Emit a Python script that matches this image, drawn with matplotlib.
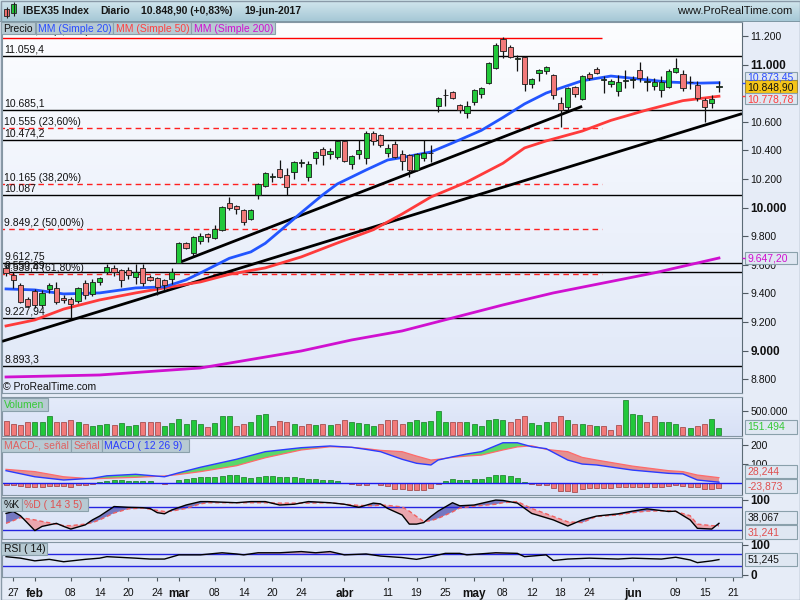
import numpy as np
import pandas as pd
import matplotlib
matplotlib.use('Agg')
import matplotlib.pyplot as plt
from matplotlib.patches import Rectangle
from matplotlib.colors import LinearSegmentedColormap

plt.rcParams['font.family'] = ['Liberation Sans', 'DejaVu Sans']

# ---------------- data ----------------
days = pd.bdate_range('2017-01-26', '2017-06-21')
days = days.drop(pd.to_datetime(['2017-04-14', '2017-04-17', '2017-05-01']))

opens = [9580, 9530, 9459, 9361, 9417, 9319, 9431, 9438, 9368, 9361,
         9347, 9473, 9396, 9480, 9550, 9578, 9564, 9564, 9515, 9578,
         9515, 9508, 9494, 9500, 9615, 9752, 9683, 9766, 9815, 9787,
         9843, 10032, 10011, 9983, 9920, 10088, 10151, 10214, 10270, 10228,
         10249, 10312, 10214, 10347, 10410, 10375, 10354, 10466, 10305, 10375,
         10347, 10522, 10508, 10382, 10445, 10375, 10368, 10263, 10347, 10380,
         10710, 10785, 10808, 10717, 10662, 10738, 10794, 10871, 10976, 11179,
         11123, 11040, 11053, 10864, 10941, 10955, 10927, 10731, 10703, 10843,
         10759, 10934, 10969, 10892, 10864, 10815, 10885, 10892, 10962, 10878,
         10850, 10822, 10843, 10948, 10934, 10876, 10857, 10752, 10731, 10845]
highs = [9600, 9550, 9475, 9375, 9430, 9424, 9473, 9480, 9389, 9375,
         9445, 9494, 9500, 9515, 9606, 9599, 9571, 9585, 9606, 9606,
         9529, 9515, 9500, 9578, 9760, 9760, 9801, 9822, 9820, 9878,
         10010, 10074, 10020, 9990, 9990, 10172, 10250, 10242, 10333, 10277,
         10326, 10340, 10326, 10396, 10424, 10417, 10473, 10473, 10368, 10473,
         10536, 10536, 10515, 10445, 10466, 10403, 10375, 10382, 10473, 10438,
         10773, 10829, 10815, 10724, 10745, 10829, 10843, 11018, 11151, 11193,
         11137, 11070, 11060, 10906, 10969, 10990, 10934, 10773, 10843, 10850,
         10927, 10948, 10983, 10920, 10899, 10927, 10962, 10920, 11018, 10920,
         10906, 10920, 10969, 11046, 10962, 10920, 10885, 10766, 10787, 10885]
lows = [9520, 9440, 9330, 9305, 9298, 9305, 9403, 9326, 9333, 9228,
        9333, 9361, 9382, 9459, 9536, 9522, 9445, 9500, 9466, 9452,
        9487, 9389, 9424, 9466, 9610, 9710, 9662, 9745, 9759, 9780,
        9836, 9980, 9955, 9878, 9910, 10060, 10144, 10179, 10207, 10088,
        10200, 10284, 10186, 10305, 10298, 10340, 10340, 10320, 10270, 10340,
        10305, 10438, 10424, 10354, 10347, 10263, 10214, 10256, 10326, 10320,
        10669, 10710, 10760, 10662, 10627, 10717, 10766, 10864, 10969, 11046,
        11046, 10955, 10815, 10836, 10885, 10934, 10759, 10564, 10682, 10773,
        10752, 10892, 10934, 10801, 10843, 10780, 10836, 10836, 10878, 10815,
        10822, 10773, 10836, 10941, 10815, 10829, 10745, 10599, 10696, 10808]
closes = [9540, 9490, 9340, 9312, 9319, 9403, 9459, 9340, 9354, 9326,
          9438, 9389, 9480, 9508, 9585, 9550, 9494, 9529, 9550, 9473,
          9490, 9445, 9459, 9550, 9755, 9717, 9794, 9801, 9794, 9850,
          10004, 9997, 9990, 9899, 9983, 10165, 10242, 10217, 10214, 10144,
          10319, 10314, 10305, 10389, 10368, 10396, 10466, 10326, 10361, 10403,
          10522, 10466, 10438, 10417, 10354, 10326, 10263, 10375, 10382, 10385,
          10766, 10790, 10766, 10682, 10710, 10822, 10836, 11011, 11137, 11095,
          11053, 11042, 10864, 10899, 10962, 10983, 10787, 10682, 10836, 10794,
          10920, 10906, 10941, 10895, 10885, 10878, 10887, 10894, 10906, 10880,
          10878, 10878, 10955, 10976, 10836, 10880, 10766, 10703, 10759, 10848.9]

ma20_idx = [0, 4, 8, 13, 18, 22, 25, 27, 31, 34, 36, 38, 41, 44, 46, 50, 53, 55, 59, 62,
            66, 69, 72, 75, 77, 80, 84, 88, 92, 96, 99]
ma20 = [9431, 9424, 9396, 9403, 9438, 9445, 9494, 9543, 9645, 9690, 9750, 9835, 9965, 10090,
        10165, 10263, 10333, 10350, 10389, 10452, 10540, 10630, 10725, 10801, 10836, 10887,
        10920, 10899, 10878, 10870, 10873.45]
ma50_idx = [0, 4, 8, 13, 18, 22, 27, 31, 36, 41, 46, 51, 55, 59, 64, 69, 72, 75, 80, 84, 89, 94, 99]
ma50 = [9172, 9214, 9290, 9354, 9403, 9438, 9480, 9533, 9578, 9655, 9752, 9845, 9955, 10074,
        10179, 10310, 10417, 10466, 10535, 10610, 10683, 10748, 10778.78]
ma200_idx = [0, 13, 27, 41, 48, 55, 62, 69, 76, 83, 90, 99]
ma200 = [8815, 8829, 8878, 8997, 9074, 9137, 9228, 9319, 9403, 9473, 9543, 9647.2]

trend1_idx = [24, 80]
trend1 = [9615, 10708]
trend2_idx = [-0.56, 102.2]
trend2 = [9064, 10657]

level_vals = [11059.4, 10685.1, 10474.2, 10087, 9612.75, 9550.89, 9227.94, 8893.3]
level_txt = ['11.059,4', '10.685,1', '10.474,2', '10.087', '9.612,75', '9.550,89', '9.227,94', '8.893,3']
fib_vals = [11187.35, 10555.7, 10165.0, 9849.2, 9533.4]
fib_txt = ['11.187,35 (0,00%)', '10.555 (23,60%)', '10.165 (38,20%)', '9.849,2 (50,00%)', '9.533,4 (61,80%)']
fib_end = 82.8

volumes = [288, 219, 199, 261, 281, 281, 391, 281, 281, 302, 261, 226, 185, 199, 226, 213, 240, 192,
           199, 261, 261, 281, 185, 254, 343, 233, 302, 219, 165, 240, 391, 391, 178, 219, 261, 412,
           446, 185, 295, 274, 226, 185, 226, 199, 226, 199, 226, 302, 281, 247, 226, 185, 226, 302,
           302, 226, 281, 308, 281, 295, 494, 281, 261, 261, 281, 226, 185, 302, 343, 308, 267, 343,
           391, 240, 206, 261, 281, 405, 302, 226, 226, 199, 185, 185, 103, 199, 720, 432, 412, 281,
           391, 261, 261, 226, 171, 137, 185, 226, 343, 151.494]
vol_colors = ('rrrrgggrrrgrgggrgggrrrggggggrgggrrgggrrrgrrgrgrrggggrrr'
              'rggggggrrggggggrrrgggrrgrgrgrrrgggrrgggrgrrgg')

macd_idx = [0, 4, 8, 12, 14, 18, 22, 24, 27, 32, 36, 41, 45, 48, 50, 52, 55, 57, 59, 60, 62, 64,
            66, 69, 71, 73, 75, 78, 80, 82, 87, 92, 94, 96, 99]
macd = [65, 33, 16, 25, 38, 46, 33, 54, 83, 125, 165, 186, 195, 188, 177, 165, 125, 104, 95, 121,
        138, 153, 165, 212, 212, 191, 181, 121, 100, 95, 68, 51, 48, 16, 4.4]
signal = [72, 60, 33, 22, 25, 30, 37, 45, 60, 91, 133, 174, 191, 188, 181, 172, 165, 142, 121, 125,
          135, 142, 147, 174, 190, 196, 177, 165, 135, 121, 89, 65, 60, 42, 28.2]
hist = [-9, -12, -18, -21, -21, -21, -14, -14, -18, -21, -12, -11, -7, 7, 12, 18, 14, 12, 12, 9,
        9, 2, -5, 1, 18, 23, 28, 33, 33, 33, 39, 42, 42, 32, 28, 33, 37, 37, 32, 32,
        32, 26, 23, 23, 18, 14, 12, 1, -7, -11, -9, -2, -11, -14, -30, -30, -35, -35, -35, -28,
        -5, 12, 23, 18, 18, 23, 23, 33, 42, 42, 37, 28, 7, -7, -11, -11, -28, -42, -42, -47,
        -32, -28, -28, -28, -28, -21, -21, -21, -21, -21, -21, -21, -18, -9, -18, -21, -21, -32, -32, -23.873]

stoch_idx = [0, 1, 2, 4, 5, 7, 8, 9, 11, 12, 13, 15, 17, 19, 20, 21, 22, 23, 25, 27, 28, 32, 34, 36,
             38, 40, 42, 45, 47, 49, 51, 52, 53, 55, 56, 57, 58, 59, 60, 62, 63, 65, 68, 69, 71, 73,
             76, 78, 80, 82, 85, 87, 89, 92, 93, 95, 96, 98, 99]
stoch_k = [64, 69, 58, 19, 30, 38, 30, 23, 34, 47, 57, 82, 80, 79, 77, 66, 63, 73, 86, 95, 95, 92,
           95, 95, 86, 88, 95, 92, 88, 80, 91, 89, 77, 60, 36, 36, 40, 56, 70, 92, 84, 86, 99, 98,
           91, 64, 47, 31, 47, 57, 63, 70, 76, 69, 70, 47, 25, 23, 38.067]
stoch_d = [38, 45, 53, 47, 43, 36, 32, 32, 36, 40, 47, 65, 76, 78, 75, 72, 69, 70, 77, 89, 92, 92,
           92, 92, 91, 91, 91, 92, 88, 85, 84, 86, 85, 81, 70, 56, 43, 45, 51, 68, 78, 83, 88, 92,
           95, 77, 56, 42, 40, 56, 60, 66, 70, 71, 69, 58, 36, 32, 31.241]

rsi_idx = [0, 2, 4, 6, 8, 11, 13, 14, 18, 20, 22, 24, 27, 30, 32, 33, 35, 38, 41, 43, 45, 47, 50,
           52, 55, 57, 59, 61, 63, 64, 68, 71, 72, 75, 76, 78, 81, 85, 87, 91, 93, 95, 96, 98, 99]
rsi = [61, 56, 47, 52, 44, 52, 56, 61, 56, 53, 53, 67, 67, 74, 70, 67, 74, 74, 78, 74, 78, 67, 70,
       63, 58, 52, 61, 72, 72, 67, 74, 72, 61, 67, 48, 53, 56, 53, 56, 53, 59, 50, 41, 47, 51.245]

tick_dates = ['2017-01-27', '2017-02-01', '2017-02-08', '2017-02-14', '2017-02-20', '2017-02-24',
              '2017-03-01', '2017-03-08', '2017-03-14', '2017-03-20', '2017-03-24', '2017-04-03',
              '2017-04-11', '2017-04-19', '2017-04-25', '2017-05-02', '2017-05-08', '2017-05-12',
              '2017-05-18', '2017-05-24', '2017-06-01', '2017-06-09', '2017-06-15', '2017-06-21']
tick_labels = ['27', 'feb', '08', '14', '20', '24', 'mar', '08', '14', '20', '24', 'abr',
               '11', '19', '25', 'may', '08', '12', '18', '24', 'jun', '09', '15', '21']
months = ['feb', 'mar', 'abr', 'may', 'jun']

price_ticks = [11200, 11000, 10600, 10400, 10200, 10000, 9800, 9600, 9400, 9200, 9000, 8800]
price_tick_txt = ['11.200', '11.000', '10.600', '10.400', '10.200', '10.000', '9.800', '9.600',
                  '9.400', '9.200', '9.000', '8.800']
bold_ticks = ['11.000', '10.000', '9.000']

# ---------------- layout ----------------
W, H = 800, 600
GREEN, RED = '#22c83a', '#f27a7a'


def box(l, t, r, b):
    return [l / W, 1 - b / H, (r - l) / W, (b - t) / H]


def gradient(a, top, bottom):
    cmap = LinearSegmentedColormap.from_list('bg', [bottom, top])
    a.imshow(np.linspace(1, 0, 64).reshape(-1, 1), cmap=cmap, aspect='auto',
             extent=(0, 1, 0, 1), transform=a.transAxes, zorder=-10, interpolation='bilinear')


fig = plt.figure(figsize=(8, 6), dpi=100, facecolor='#e6ecf7')
ax = fig.add_axes(box(2, 22, 742, 393))
axv = fig.add_axes(box(2, 397, 742, 436), sharex=ax)
axm = fig.add_axes(box(2, 438, 742, 495), sharex=ax)
axs = fig.add_axes(box(2, 497, 742, 539), sharex=ax)
axr = fig.add_axes(box(2, 542, 742, 577), sharex=ax)

gradient(ax, '#fcfdff', '#e0e8f8')
for a in (axv, axm, axs, axr):
    gradient(a, '#e4ebfa', '#d8e1f6')

for a in (ax, axv, axm, axs, axr):
    for s in a.spines.values():
        s.set_color('#8496a3')
        s.set_linewidth(0.8)
    a.spines['right'].set_color('#5c6b76')
    a.tick_params(axis='y', left=False, right=True, labelleft=False, labelright=True,
                  length=4, width=0.8, color='#505a62', labelsize=7.5, pad=2, labelcolor='#111')
    a.tick_params(axis='x', bottom=False, labelbottom=False)

x = np.arange(len(closes))
o = np.array(opens)
c = np.array(closes)

# price panel
ax.hlines(level_vals, -1, 103, color='black', lw=1, zorder=2)
ax.hlines(fib_vals[0], -1, fib_end, color='#ff0000', lw=1, zorder=2)
ax.hlines(fib_vals[1:], -1, fib_end, color='#ff2020', lw=1, linestyles=(0, (4, 3)), zorder=2)
for v, t in zip(level_vals + fib_vals, level_txt + fib_txt):
    ax.annotate(t, xy=(0, v), xycoords=('axes fraction', 'data'), xytext=(1.5, 1),
                textcoords='offset points', va='bottom', fontsize=7.5, color='#111', zorder=2)

ax.plot(trend1_idx, trend1, color='black', lw=2, zorder=3, solid_capstyle='butt')
ax.plot(trend2_idx, trend2, color='black', lw=2, zorder=3, solid_capstyle='butt')
ax.plot(ma200_idx, ma200, color='#d010d0', lw=2, zorder=3)
ax.plot(ma50_idx, ma50, color='#ff3b3b', lw=2, zorder=3)
ax.plot(ma20_idx, ma20, color='#2255ff', lw=2, zorder=3)

ax.vlines(x, lows, highs, color='#111', lw=0.9, zorder=4)
ax.bar(x, np.maximum(np.abs(c - o), 4), bottom=np.minimum(o, c), width=0.72,
       color=np.where(c >= o, GREEN, RED), edgecolor='#1a1a1a', lw=0.6, zorder=5)

ax.set_ylim(8703, 11298)
ax.set_yticks(price_ticks)
ax.set_yticklabels(price_tick_txt)
for lab in ax.get_yticklabels():
    if lab.get_text() in bold_ticks:
        lab.set_fontweight('bold')
        lab.set_fontsize(8.5)

# volume
axv.bar(x, np.array(volumes) * 1000, width=0.7,
        color=[GREEN if k == 'g' else RED for k in vol_colors],
        edgecolor=['#167a22' if k == 'g' else '#9a3a3a' for k in vol_colors], lw=0.5)
axv.set_ylim(-20000, 790000)
axv.set_yticks([500000])
axv.set_yticklabels(['500.000'])

# macd
mi, mv, sv = np.array(macd_idx), np.array(macd), np.array(signal)
axm.fill_between(mi, mv, sv, where=mv >= sv, interpolate=True, color='#5ad86a', lw=0)
axm.fill_between(mi, mv, sv, where=mv < sv, interpolate=True, color='#e49090', lw=0)
axm.plot(mi, sv, color='#ff6a6a', lw=0.9)
axm.plot(mi, mv, color='#2b3bff', lw=1)
hv = np.array(hist)
axm.bar(x, hv, width=0.7, color=np.where(hv >= 0, GREEN, RED),
        edgecolor=np.where(hv >= 0, '#167a22', '#9a3a3a'), lw=0.5)
axm.axhline(0, color='#1a1aee', lw=1)
axm.set_ylim(-63, 237)
axm.set_yticks([200, 100])
axm.set_yticklabels(['200', '100'])

# stochastic
si, kv, dv = np.array(stoch_idx), np.array(stoch_k), np.array(stoch_d)
axs.fill_between(si, kv, dv, where=kv >= dv, interpolate=True, color='#7478c2', lw=0)
axs.fill_between(si, kv, dv, where=kv < dv, interpolate=True, color='#eaa6ae', lw=0)
axs.axhline(80, color='#2424e0', lw=1)
axs.axhline(20, color='#2424e0', lw=1)
axs.plot(si, dv, color='#f06060', lw=1, ls=(0, (3, 2)))
axs.plot(si, kv, color='black', lw=1)
axs.set_ylim(-3, 107)
axs.set_yticks([100])
axs.set_yticklabels(['100'], fontweight='bold', fontsize=8.5)

# rsi
ri, rv = np.array(rsi_idx), np.array(rsi)
axr.fill_between(ri, rv, 70, where=rv >= 70, interpolate=True, color='#d9a9c0', lw=0)
axr.axhline(70, color='#2424e0', lw=1)
axr.axhline(30, color='#2424e0', lw=1)
axr.plot(ri, rv, color='black', lw=1)
axr.set_ylim(-7, 110)
axr.set_yticks([100, 0])
axr.set_yticklabels(['100', '0'], fontweight='bold', fontsize=8.5)

pos = [days.get_loc(pd.Timestamp(d)) for d in tick_dates]
axr.set_xticks(pos)
axr.set_xticklabels(tick_labels)
axr.tick_params(axis='x', bottom=True, labelbottom=True, length=3, color='#505a62',
                labelsize=7.5, pad=5, labelcolor='#111')
for lab in axr.get_xticklabels():
    if lab.get_text() in months:
        lab.set_fontweight('bold')
        lab.set_fontsize(8.5)
ax.set_xlim(-0.56, 102.2)

# ---------------- overlay: header, tags, value boxes ----------------
ov = fig.add_axes([0, 0, 1, 1], zorder=10)
ov.patch.set_visible(False)
ov.axis('off')
hdr = LinearSegmentedColormap.from_list('hdr', ['#a6c8d6', '#d3e7ee'])
ov.imshow(np.linspace(1, 0, 32).reshape(-1, 1), cmap=hdr, aspect='auto',
          extent=(0, 800, 21, 0), interpolation='bilinear')
ov.add_patch(Rectangle((0, 21), 800, 0.8, fc='#7f98a5', ec='none'))
ov.add_patch(Rectangle((0.5, 0.5), 799, 599, fc='none', ec='#8a9aa8', lw=1))
ov.vlines([6.5, 13.5], [7, 2], [18, 16], color='#222', lw=0.8)
ov.add_patch(Rectangle((4, 9), 5, 7, fc='#f07070', ec='#222', lw=0.6))
ov.add_patch(Rectangle((11, 4), 5, 9, fc='#22c83a', ec='#222', lw=0.6))
title_y = 11.5
for tx, s in [(23, 'IBEX35 Index'), (100, 'Diario'), (141, '10.848,90 (+0,83%)'), (244, '19-jun-2017')]:
    ov.text(tx, title_y, s, fontsize=7.5, fontweight='bold', color='#151515', va='center')
ov.text(792, title_y, 'www.ProRealTime.com', fontsize=8, color='#151515', va='center', ha='right')
ov.text(3, 387, '\u00a9 ProRealTime.com', fontsize=7.5, color='#111', va='center')


def tag(x0, y0, x1, y1, text, color, fc='#b7cad3', ec='#8aa0ab'):
    ov.add_patch(Rectangle((x0, y0), x1 - x0, y1 - y0, fc=fc, ec=ec, lw=0.8))
    ov.text(x0 + 2.5, (y0 + y1) / 2 + 0.5, text, color=color, va='center', ha='left', fontsize=7.5)


tag(1, 22, 35, 34, 'Precio', '#111')
tag(36, 22, 113, 34, 'MM (Simple 20)', '#2a4cff')
tag(113, 22, 191, 34, 'MM (Simple 50)', '#ff4040')
tag(191, 22, 275, 34, 'MM (Simple 200)', '#d010d0')
tag(1, 398, 48, 411, 'Volumen', '#35c935')
tag(1, 439, 71, 452, 'MACD-, se\u00f1al', '#e06060')
tag(71, 439, 102, 452, 'Se\u00f1al', '#e06060')
tag(102, 439, 189, 452, 'MACD ( 12 26 9)', '#2a3cff')
tag(1, 498, 22, 511, '%K', '#111')
tag(22, 498, 88, 511, '%D ( 14 3 5)', '#e05050')
tag(1, 543, 47, 555, 'RSI ( 14)', '#111')

vb = '#dfe7f2'
tag(745, 72, 797, 81, '10.873,45', '#2a4cff', fc=vb)
tag(745, 80, 797, 93, '10.848,90', '#111', fc='#f5c518', ec='#9a8a40')
tag(745, 93, 797, 104, '10.778,78', '#ff3b3b', fc=vb)
tag(745, 252, 797, 264, '9.647,20', '#d010d0', fc=vb)
tag(745, 420, 797, 434, '151.494', '#35c935', fc=vb)
tag(745, 465, 797, 478, '28,244', '#e05050', fc=vb)
tag(745, 479, 797, 493, '-23,873', '#e05050', fc=vb)
tag(745, 511, 797, 524, '38,067', '#111', fc=vb)
tag(745, 525, 797, 539, '31,241', '#e05050', fc=vb)
tag(745, 553, 797, 566, '51,245', '#111', fc=vb)
ov.hlines([83, 96, 258], 742, 745, colors=['#2a4cff', '#ff3b3b', '#d010d0'], lw=1)
ov.set_xlim(0, W)
ov.set_ylim(H, 0)

fig.savefig('out.png', dpi=100, facecolor=fig.get_facecolor())
